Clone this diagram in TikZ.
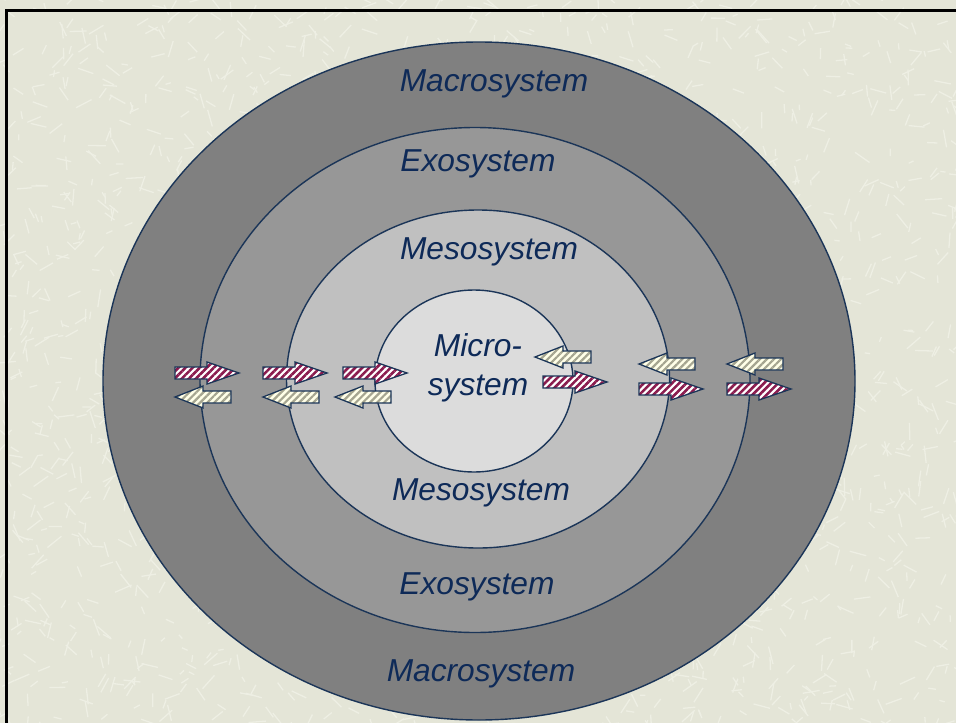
\documentclass[tikz,border=0pt]{standalone}
\usepackage{fontspec}
\setmainfont{Liberation Sans}
\usetikzlibrary{shapes.geometric,patterns.meta}
\definecolor{bg}{HTML}{E4E5D7}
\definecolor{tex}{HTML}{EEEFE4}
\definecolor{navy}{HTML}{1B3558}
\definecolor{txt}{HTML}{0E2A58}
\definecolor{cmacro}{HTML}{808080}
\definecolor{cexo}{HTML}{979797}
\definecolor{cmeso}{HTML}{C0C0C0}
\definecolor{cmicro}{HTML}{DCDCDC}
\definecolor{purp}{HTML}{8A1B4E}
\definecolor{cream}{HTML}{FFFFE8}
\definecolor{olive}{HTML}{A5A590}
\tikzset{
  ring/.style={draw=navy, line width=1.4pt, ellipse, inner sep=0pt},
  lbl/.style={text=txt, font=\fontsize{31.7}{39}\selectfont\itshape, align=center, inner sep=0pt},
  arrline/.style={draw=navy, line width=1.3pt, line join=miter},
  rfill/.style={preaction={fill=white}, pattern={Lines[angle=45,distance=5pt,line width=2.6pt]}, pattern color=purp},
  lfill/.style={preaction={fill=cream}, pattern={Lines[angle=45,distance=5pt,line width=2.2pt]}, pattern color=olive},
  rightarrow/.pic={\draw[arrline,rfill] (0,-6) -- (32,-6) -- (32,-11) -- (64,0) -- (32,11) -- (32,6) -- (0,6) -- cycle;},
  leftarrow/.pic={\draw[arrline,lfill] (0,0) -- (28,-11) -- (28,-6) -- (56,-6) -- (56,6) -- (28,6) -- (28,11) -- cycle;},
}
\begin{document}
\begin{tikzpicture}[x=1pt,y=-1pt]
\useasboundingbox (0,0) rectangle (956,723);
\fill[bg] (0,0) rectangle (956,723);
\begin{scope}
\clip (0,0) rectangle (956,723);
\pgfmathsetseed{11}
\foreach \i in {1,...,2200}{
  \pgfmathsetmacro\xx{rnd*970-7}
  \pgfmathsetmacro\yy{rnd*740-7}
  \pgfmathsetmacro\aa{rnd*180}
  \pgfmathsetmacro\ll{5+rnd*13}
  \draw[tex, line width=1.3pt] (\xx,\yy) -- ++(\aa:\ll);
}
\end{scope}
\draw[black, line width=3pt] (6,723) -- (6,10) -- (956,10);
% rings
\node[ring, fill=cmacro, minimum width=752pt, minimum height=678pt] (macro) at (479,381) {};
\node[ring, fill=cexo, minimum width=550pt, minimum height=505pt] (exo) at (475,380) {};
\node[ring, fill=cmeso, minimum width=383pt, minimum height=338pt] (meso) at (478,379) {};
\node[ring, fill=cmicro, minimum width=198pt, minimum height=182pt] (micro) at (474,381) {};
% labels
\node[lbl] (macT) at (494,84) {Macrosystem};
\node[lbl] (exoT) at (478,164) {Exosystem};
\node[lbl] (mesoT) at (489,252) {Mesosystem};
\node[lbl] (microT) at (478,368) {Micro-\\system};
\node[lbl] (mesoB) at (481,493) {Mesosystem};
\node[lbl] (exoB) at (477,587) {Exosystem};
\node[lbl] (macB) at (481,674) {Macrosystem};
% arrows
\pic at (175,373) {rightarrow};
\pic at (263,373) {rightarrow};
\pic at (343,373) {rightarrow};
\pic at (543,382) {rightarrow};
\pic at (639,389) {rightarrow};
\pic at (727,389) {rightarrow};
\pic at (175,397) {leftarrow};
\pic at (263,397) {leftarrow};
\pic at (335,397) {leftarrow};
\pic at (535,357) {leftarrow};
\pic at (639,364) {leftarrow};
\pic at (727,364) {leftarrow};
\end{tikzpicture}
\end{document}
